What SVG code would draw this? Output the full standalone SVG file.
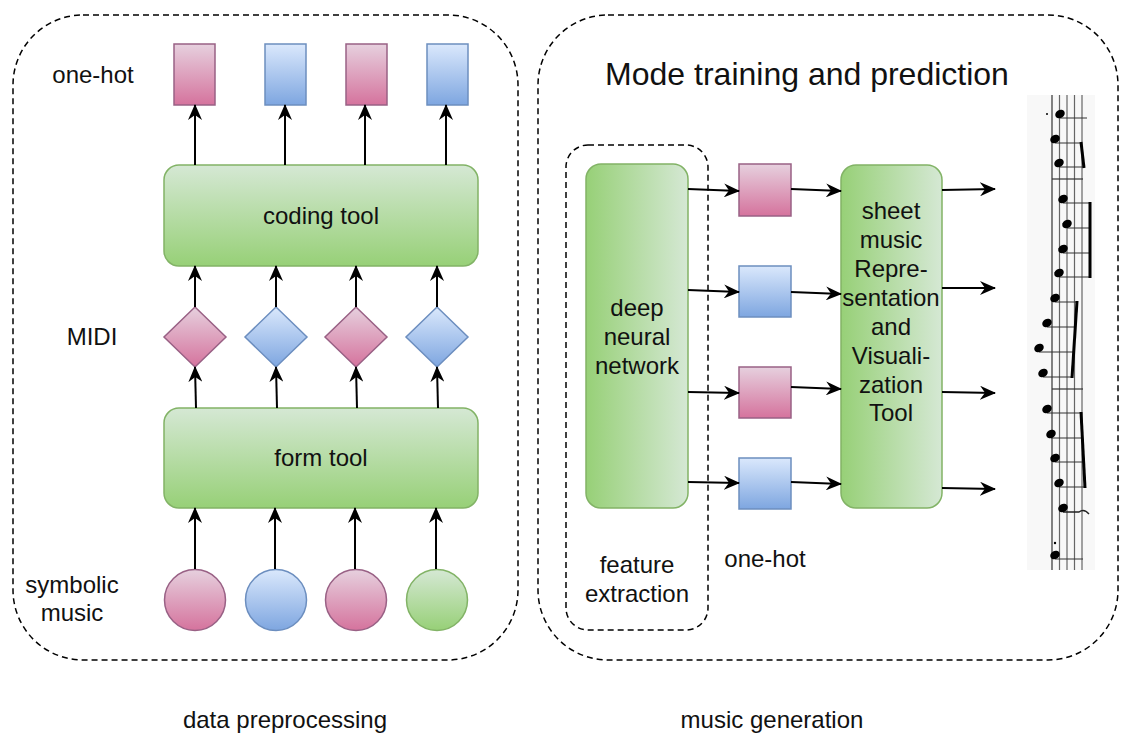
<svg xmlns="http://www.w3.org/2000/svg" width="1121" height="733" viewBox="0 0 1121 733">
<defs>
<linearGradient id="gPink" x1="0" y1="0" x2="0" y2="1"><stop offset="0" stop-color="#e6d0de"/><stop offset="1" stop-color="#d5739d"/></linearGradient>
<linearGradient id="gBlue" x1="0" y1="0" x2="0" y2="1"><stop offset="0" stop-color="#dae8fc"/><stop offset="1" stop-color="#7ea6e0"/></linearGradient>
<linearGradient id="gGreen" x1="0" y1="0" x2="0" y2="1"><stop offset="0" stop-color="#d5e8d4"/><stop offset="1" stop-color="#97d077"/></linearGradient>
<linearGradient id="gGreenH" x1="0" y1="0" x2="1" y2="0"><stop offset="0" stop-color="#97d077"/><stop offset="1" stop-color="#d5e8d4"/></linearGradient>
<marker id="arr" viewBox="0 0 16 14" refX="15" refY="7" markerWidth="16" markerHeight="14" orient="auto" markerUnits="userSpaceOnUse"><path d="M0,0 L16,7 L0,14 L5,7 Z" fill="#000"/></marker>
</defs>
<style>
.t{font-family:"Liberation Sans",Arial,sans-serif;font-size:24px;fill:#111;text-anchor:middle}
.title{font-size:32px}
.pink{fill:url(#gPink);stroke:#996185;stroke-width:1.5}
.blue{fill:url(#gBlue);stroke:#6c8ebf;stroke-width:1.5}
.green{fill:url(#gGreen);stroke:#82b366;stroke-width:1.5}
.greenH{fill:url(#gGreenH);stroke:#82b366;stroke-width:1.5}
.dash{fill:none;stroke:#000;stroke-width:1.5;stroke-dasharray:6 4}
.c{fill:none;stroke:#000;stroke-width:2;marker-end:url(#arr)}
.staff{stroke:#666;stroke-width:1.2}
.stem{stroke:#333;stroke-width:1}
.beam{stroke:#000;stroke-width:3}
.head{fill:#000}
</style>
<rect width="1121" height="733" fill="#fff"/>

<g id="containers">
<rect class="dash" x="13" y="15" width="505" height="645" rx="70"/>
<rect class="dash" x="538" y="15" width="580" height="645" rx="70"/>
<rect class="dash" x="566" y="145" width="142" height="485" rx="22"/>
</g>

<g id="labels">
<text class="t" x="93" y="83">one-hot</text>
<text class="t" x="92" y="345">MIDI</text>
<text class="t" x="72" y="593">symbolic</text>
<text class="t" x="72" y="621">music</text>
<text class="t title" x="807" y="85">Mode training and prediction</text>
<text class="t" x="637" y="573">feature</text>
<text class="t" x="637" y="602">extraction</text>
<text class="t" x="765" y="567">one-hot</text>
<text class="t" x="285" y="728">data preprocessing</text>
<text class="t" x="772" y="728">music generation</text>
</g>

<g id="onehot-left">
<rect class="pink" x="174" y="44" width="41" height="61"/>
<rect class="blue" x="265" y="44" width="41" height="61"/>
<rect class="pink" x="346" y="44" width="41" height="61"/>
<rect class="blue" x="427" y="44" width="41" height="61"/>
</g>

<g id="coding-tool">
<rect class="green" x="164" y="165" width="314" height="101" rx="15"/>
<text class="t" x="321" y="224">coding tool</text>
</g>

<g id="midi">
<polygon class="pink" points="195,307 226,337 195,367 164,337"/>
<polygon class="blue" points="276,307 307,337 276,367 245,337"/>
<polygon class="pink" points="356,307 387,337 356,367 325,337"/>
<polygon class="blue" points="437,307 468,337 437,367 406,337"/>
</g>

<g id="form-tool">
<rect class="green" x="164" y="408" width="314" height="100" rx="15"/>
<text class="t" x="321" y="466">form tool</text>
</g>

<g id="symbolic">
<circle class="pink" cx="195" cy="600" r="30.5"/>
<circle class="blue" cx="276" cy="600" r="30.5"/>
<circle class="pink" cx="356" cy="600" r="30.5"/>
<circle class="green" cx="437" cy="600" r="30.5"/>
</g>

<g id="dnn">
<rect class="greenH" x="586" y="164" width="102" height="344" rx="15"/>
<text class="t" x="637" y="316">deep</text>
<text class="t" x="637" y="345">neural</text>
<text class="t" x="637" y="374">network</text>
</g>

<g id="onehot-right">
<rect class="pink" x="739" y="164" width="52" height="52"/>
<rect class="blue" x="739" y="266" width="52" height="51"/>
<rect class="pink" x="739" y="367" width="52" height="51"/>
<rect class="blue" x="739" y="458" width="52" height="51"/>
</g>

<g id="sheet-tool">
<rect class="greenH" x="841" y="165" width="101" height="343" rx="15"/>
<text class="t" x="891" y="219">sheet</text>
<text class="t" x="891" y="248">music</text>
<text class="t" x="891" y="277">Repre-</text>
<text class="t" x="891" y="306">sentation</text>
<text class="t" x="891" y="335">and</text>
<text class="t" x="891" y="364">Visuali-</text>
<text class="t" x="891" y="393">zation</text>
<text class="t" x="891" y="421">Tool</text>
</g>

<g id="connectors">
<line class="c" x1="195" y1="165" x2="195" y2="105"/>
<line class="c" x1="285" y1="165" x2="285" y2="105"/>
<line class="c" x1="365" y1="165" x2="365" y2="105"/>
<line class="c" x1="446" y1="165" x2="446" y2="105"/>
<line class="c" x1="195" y1="307" x2="195" y2="266"/>
<line class="c" x1="276" y1="307" x2="276" y2="266"/>
<line class="c" x1="356" y1="307" x2="356" y2="266"/>
<line class="c" x1="437" y1="307" x2="437" y2="266"/>
<line class="c" x1="196" y1="408" x2="195" y2="367"/>
<line class="c" x1="277" y1="408" x2="276" y2="367"/>
<line class="c" x1="357" y1="408" x2="356" y2="367"/>
<line class="c" x1="438" y1="408" x2="437" y2="367"/>
<line class="c" x1="195" y1="569" x2="195" y2="508"/>
<line class="c" x1="275" y1="569" x2="275" y2="508"/>
<line class="c" x1="355" y1="569" x2="355" y2="508"/>
<line class="c" x1="436" y1="569" x2="436" y2="508"/>
<line class="c" x1="688" y1="189" x2="739" y2="191"/>
<line class="c" x1="688" y1="290" x2="739" y2="292"/>
<line class="c" x1="688" y1="392" x2="739" y2="393"/>
<line class="c" x1="688" y1="482" x2="739" y2="483"/>
<line class="c" x1="791" y1="189" x2="841" y2="191"/>
<line class="c" x1="791" y1="292" x2="841" y2="294"/>
<line class="c" x1="791" y1="387" x2="841" y2="389"/>
<line class="c" x1="791" y1="482" x2="841" y2="484"/>
<line class="c" x1="942" y1="190" x2="995" y2="189"/>
<line class="c" x1="942" y1="288" x2="995" y2="288"/>
<line class="c" x1="942" y1="392" x2="995" y2="393"/>
<line class="c" x1="942" y1="488" x2="995" y2="489"/>
</g>

<g id="sheet-music">
<rect x="1027" y="95" width="68" height="475" fill="#f8f8f8"/>
<line class="staff" x1="1052" y1="95" x2="1052" y2="570" style="stroke:#333"/>
<line class="staff" x1="1059.5" y1="95" x2="1059.5" y2="570"/>
<line class="staff" x1="1067" y1="95" x2="1067" y2="570"/>
<line class="staff" x1="1074.5" y1="95" x2="1074.5" y2="570"/>
<line class="staff" x1="1082" y1="95" x2="1082" y2="570"/>
<line class="staff" x1="1052" y1="179" x2="1083" y2="179" style="stroke:#333"/>
<line class="staff" x1="1052" y1="389" x2="1083" y2="389" style="stroke:#333"/>
<circle class="head" cx="1047" cy="114" r="1"/>
<circle class="head" cx="1055" cy="543" r="1.2"/>
<g class="stem">
<line x1="1060" y1="118" x2="1087" y2="118"/>
<line x1="1055" y1="143" x2="1082" y2="143"/>
<line x1="1059" y1="167" x2="1084" y2="167"/>
<line x1="1063" y1="203" x2="1090" y2="203"/>
<line x1="1067" y1="228" x2="1090" y2="228"/>
<line x1="1063" y1="253" x2="1090" y2="253"/>
<line x1="1059" y1="277" x2="1090" y2="277"/>
<line x1="1055" y1="302" x2="1077" y2="302"/>
<line x1="1047" y1="327" x2="1076" y2="327"/>
<line x1="1039" y1="352" x2="1074" y2="352"/>
<line x1="1043" y1="377" x2="1072" y2="377"/>
<line x1="1047" y1="413" x2="1082" y2="413"/>
<line x1="1051" y1="438" x2="1083" y2="438"/>
<line x1="1055" y1="462" x2="1084" y2="462"/>
<line x1="1059" y1="487" x2="1085" y2="487"/>
<line x1="1055" y1="559" x2="1083" y2="559"/>
</g>
<path d="M1063,512 L1079,512 Q1084,508 1089,514" fill="none" stroke="#222" stroke-width="1.4"/>
<line class="beam" x1="1081" y1="142" x2="1084" y2="168"/>
<line class="beam" x1="1090" y1="202" x2="1090" y2="278"/>
<line class="beam" x1="1077" y1="301" x2="1072" y2="378"/>
<line class="beam" x1="1081" y1="412" x2="1085" y2="488"/>
<g class="head">
<ellipse cx="1060" cy="114" rx="5" ry="4" transform="rotate(-30 1060 114)"/>
<ellipse cx="1055" cy="139" rx="5" ry="4" transform="rotate(-30 1055 139)"/>
<ellipse cx="1059" cy="163" rx="5" ry="4" transform="rotate(-30 1059 163)"/>
<ellipse cx="1063" cy="199" rx="5" ry="4" transform="rotate(-30 1063 199)"/>
<ellipse cx="1067" cy="224" rx="5" ry="4" transform="rotate(-30 1067 224)"/>
<ellipse cx="1063" cy="249" rx="5" ry="4" transform="rotate(-30 1063 249)"/>
<ellipse cx="1059" cy="273" rx="5" ry="4" transform="rotate(-30 1059 273)"/>
<ellipse cx="1055" cy="298" rx="5" ry="4" transform="rotate(-30 1055 298)"/>
<ellipse cx="1047" cy="323" rx="5" ry="4" transform="rotate(-30 1047 323)"/>
<ellipse cx="1039" cy="348" rx="5" ry="4" transform="rotate(-30 1039 348)"/>
<ellipse cx="1043" cy="373" rx="5" ry="4" transform="rotate(-30 1043 373)"/>
<ellipse cx="1047" cy="409" rx="5" ry="4" transform="rotate(-30 1047 409)"/>
<ellipse cx="1051" cy="434" rx="5" ry="4" transform="rotate(-30 1051 434)"/>
<ellipse cx="1055" cy="458" rx="5" ry="4" transform="rotate(-30 1055 458)"/>
<ellipse cx="1059" cy="483" rx="5" ry="4" transform="rotate(-30 1059 483)"/>
<ellipse cx="1063" cy="508" rx="5" ry="4" transform="rotate(-30 1063 508)"/>
<ellipse cx="1055" cy="555" rx="5" ry="4" transform="rotate(-30 1055 555)"/>
</g>
</g>
</svg>
